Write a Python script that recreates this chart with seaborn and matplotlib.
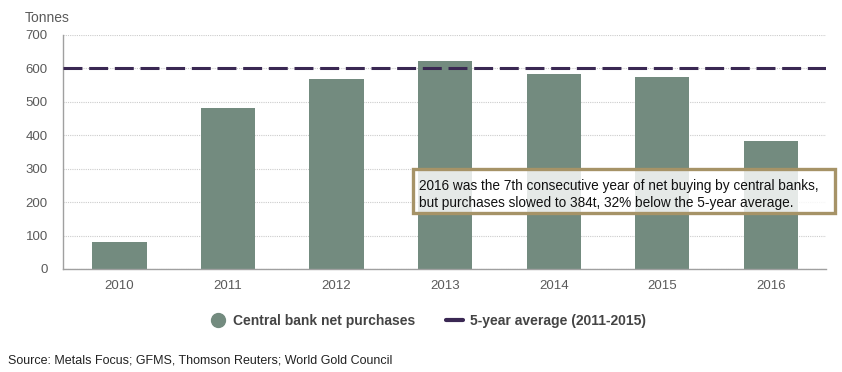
import matplotlib.pyplot as plt
import seaborn as sns
import pandas as pd
from matplotlib.lines import Line2D
from matplotlib.patches import Rectangle

# Central bank net purchases, tonnes
years = ['2010', '2011', '2012', '2013', '2014', '2015', '2016']
purchases = [80, 482, 569, 623, 584, 575, 384]
five_year_avg = 600
y_ticks = [0, 100, 200, 300, 400, 500, 600, 700]

note = ('2016 was the 7th consecutive year of net buying by central banks,\n'
        'but purchases slowed to 384t, 32% below the 5-year average.')
source = 'Source: Metals Focus; GFMS, Thomson Reuters; World Gold Council'

df = pd.DataFrame({'Year': years, 'Tonnes': purchases})

BAR = '#738b7f'
AVG = '#3a2853'
GREY = '#5a5a5a'
BOX = '#a69367'


def make_chart():
    sns.set_style('white')
    plt.rcParams['font.family'] = ['Liberation Sans', 'DejaVu Sans']

    fig = plt.figure(figsize=(8.42, 3.72), dpi=100)
    ax = fig.add_axes([0.075, 0.277, 0.906, 0.629])

    sns.barplot(data=df, x='Year', y='Tonnes', color=BAR, width=0.5,
                saturation=1, linewidth=0, ax=ax, zorder=2)

    ax.set_ylim(0, 700)
    ax.set_xlim(-0.52, 6.51)
    ax.set_yticks(y_ticks)
    ax.yaxis.grid(True, linestyle=(0, (1, 1)), color='#cccccc', linewidth=0.8, zorder=0)
    ax.set_axisbelow(True)

    ax.axhline(five_year_avg, color=AVG, linewidth=2.2, dashes=(6.2, 2.2), zorder=3)

    for side in ['top', 'right']:
        ax.spines[side].set_visible(False)
    for side in ['left', 'bottom']:
        ax.spines[side].set_color('#a0a0a0')
        ax.spines[side].set_linewidth(1)

    ax.tick_params(axis='both', length=0, labelsize=9.5, labelcolor=GREY)
    ax.tick_params(axis='x', pad=8)
    ax.tick_params(axis='y', pad=11)
    ax.set_xlabel('')
    ax.set_ylabel('')

    fig.text(0.029, 0.952, 'Tonnes', fontsize=10, color=GREY, va='center', ha='left')

    # annotation box
    fig.patches.append(Rectangle((0.4905, 0.427), 0.501, 0.119, transform=fig.transFigure,
                                 facecolor='white', alpha=0.82, edgecolor='none', zorder=4))
    fig.patches.append(Rectangle((0.4905, 0.427), 0.501, 0.119, transform=fig.transFigure,
                                 facecolor='none', edgecolor=BOX, linewidth=2.4, zorder=5))
    fig.text(0.4975, 0.477, note, fontsize=9.8, color='#111111', va='center', ha='left',
             linespacing=1.3, zorder=6)

    handles = [
        Line2D([], [], marker='o', linestyle='none', markersize=10,
               markerfacecolor=BAR, markeredgecolor=BAR),
        Line2D([], [], color=AVG, linewidth=3),
    ]
    labels = ['Central bank net purchases', '5-year average (2011-2015)']
    leg = fig.legend(handles, labels, loc='center', bbox_to_anchor=(0.508, 0.137),
                     ncol=2, frameon=False, fontsize=10, handlelength=1.2,
                     handletextpad=0.5, columnspacing=2.2)
    for t in leg.get_texts():
        t.set_color('#444444')
        t.set_fontweight('bold')

    fig.text(0.009, 0.032, source, fontsize=9, color='#222222', va='center', ha='left')

    fig.savefig('out.png', dpi=100)


if __name__ == '__main__':
    make_chart()
